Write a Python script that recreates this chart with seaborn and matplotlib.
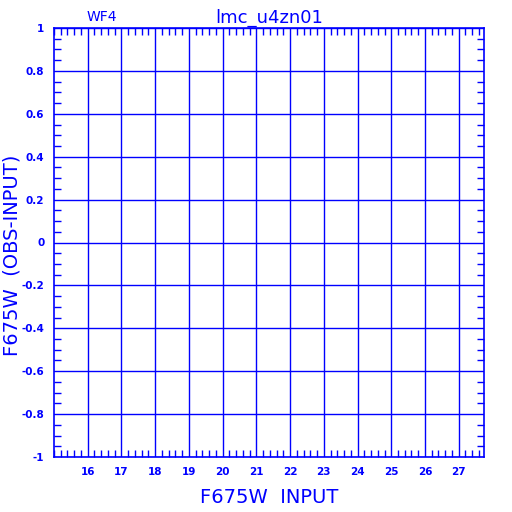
import numpy as np
import pandas as pd
import seaborn as sns
import matplotlib.pyplot as plt
from matplotlib.ticker import MultipleLocator, FormatStrFormatter

# chart data (the reference panel holds no points, only the frame)
x_input = []
y_resid = []
x_ticks = [16, 17, 18, 19, 20, 21, 22, 23, 24, 25, 26, 27]
y_ticks = [-1, -0.8, -0.6, -0.4, -0.2, 0, 0.2, 0.4, 0.6, 0.8, 1]
title = "lmc_u4zn01"
chip = "WF4"

sns.set_style("white")
plt.rcParams['font.family'] = ['DejaVu Sans']
plt.rcParams['axes.unicode_minus'] = False

blue = "#0000ff"

fig = plt.figure(figsize=(5.12, 5.12), dpi=100)
ax = fig.add_axes([54 / 512, 55 / 512, 430 / 512, 429 / 512])

df = pd.DataFrame({"x": x_input, "y": y_resid})
sns.scatterplot(data=df, x="x", y="y", ax=ax, color=blue)

ax.set_xlim(15.0, 27.75)
ax.set_ylim(-1, 1)
ax.set_xticks(x_ticks)
ax.set_yticks(y_ticks)
ax.xaxis.set_minor_locator(MultipleLocator(0.2))
ax.yaxis.set_minor_locator(MultipleLocator(0.05))
ax.yaxis.set_major_formatter(FormatStrFormatter('%g'))

ax.grid(True, which='major', color=blue, linewidth=1)
for s in ax.spines.values():
    s.set_color(blue)
    s.set_linewidth(1.2)

ax.tick_params(which='both', direction='in', color=blue, top=True, right=True,
               bottom=True, left=True, labelcolor=blue, labelsize=7.5)
ax.tick_params(which='major', length=0, pad=7)
ax.tick_params(which='minor', length=5, width=1)
for lbl in ax.get_xticklabels() + ax.get_yticklabels():
    lbl.set_fontweight('bold')

ax.set_xlabel("F675W  INPUT", color=blue, fontsize=14, labelpad=8)
ax.set_ylabel("")
fig.text(12 / 512, 0.5 + 1 / 512, "F675W  (OBS-INPUT)", color=blue, fontsize=14,
         rotation=90, ha='center', va='center')
ax.set_title(title, color=blue, fontsize=13, pad=4)
ax.text(0.11, 1.01, chip, transform=ax.transAxes, color=blue, fontsize=10,
        ha='center', va='bottom')

fig.savefig("out.png", dpi=100)
